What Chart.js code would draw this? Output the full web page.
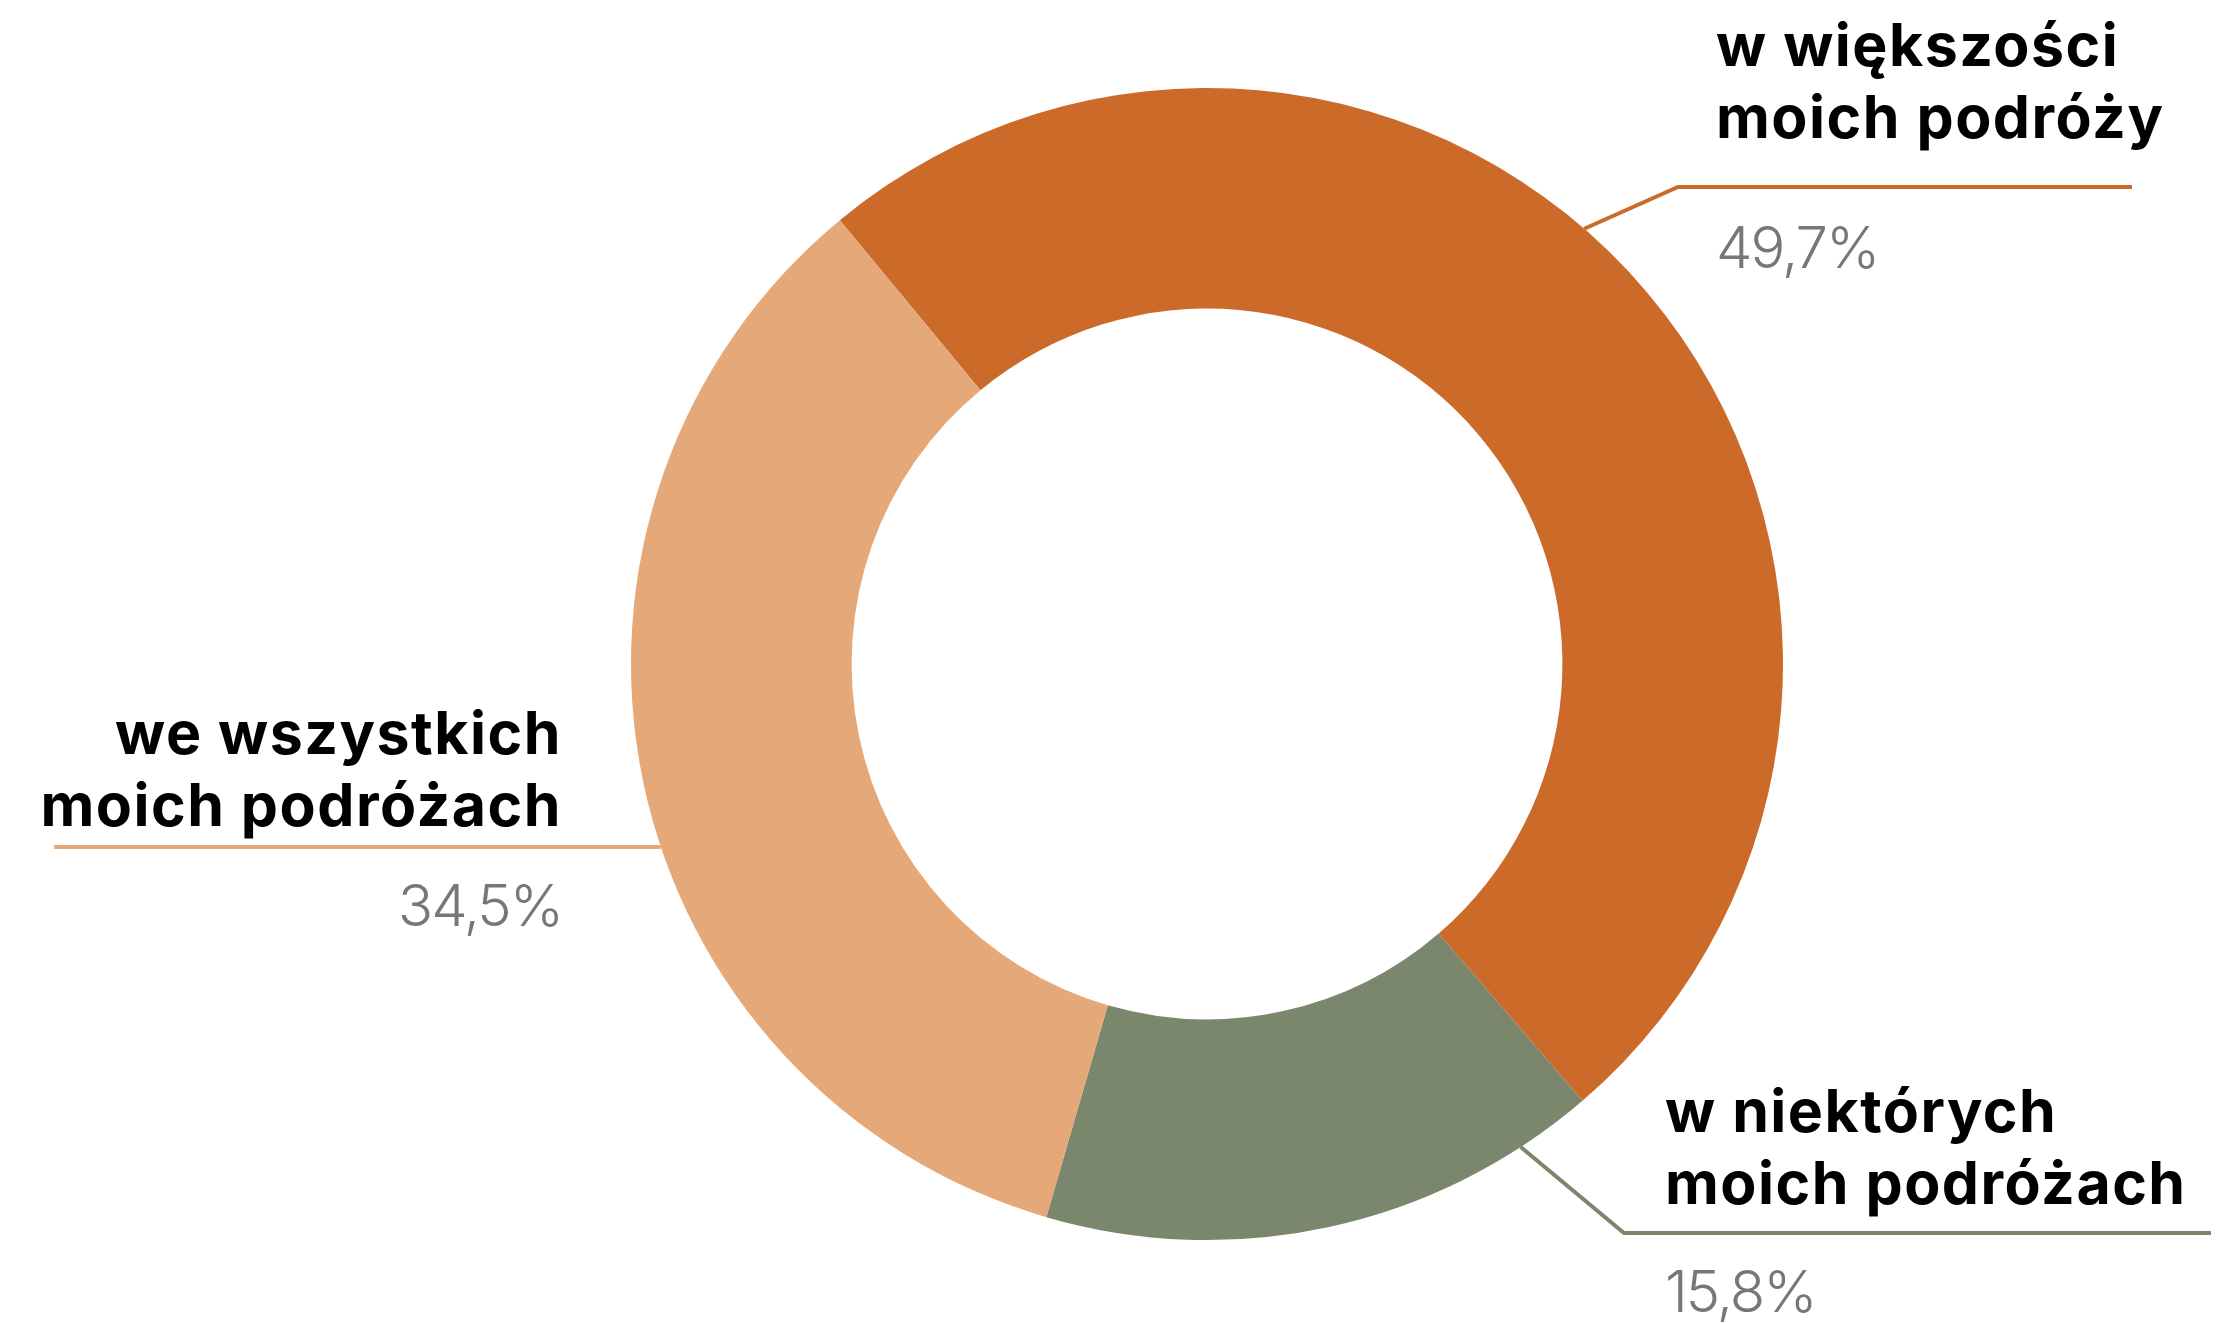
<!DOCTYPE html>
<html>
<head>
<meta charset="utf-8">
<script src="https://cdn.jsdelivr.net/npm/chart.js@4/dist/chart.umd.min.js"></script>
<style>
  html, body { margin: 0; padding: 0; background: #ffffff; }
  #wrap { width: 2218px; height: 1323px; }
</style>
</head>
<body>
<div id="wrap"><canvas id="myChart" width="2218" height="1323"></canvas></div>
<script>
// dane
const kategorie = [
  ['w większości', 'moich podróży'],
  ['w niektórych', 'moich podróżach'],
  ['we wszystkich', 'moich podróżach']
]
const wartosci = [49.7, 15.8, 34.5]
const etykietyProcent = ['49,7%', '15,8%', '34,5%']
const kolory = ['#cc6a2a', '#7a876c', '#e5a879']

// rozmieszczenie podpisów (piksele)
const podpisy = [
  { frac: 0.45, elbowX: 1678, lineY: 187, endX: 2132, textX: 1716, align: 'left', y1: 66, pctY: 268 },
  { frac: 0.135, elbowX: 1624, lineY: 1233, endX: 2211, textX: 1665, align: 'left', y1: 1132, pctY: 1312 },
  { frac: 0.445, elbowX: null, lineY: null, endX: 54, textX: 562, align: 'right', y1: 754, pctY: 926 }
]

const pluginPodpisy = {
  id: 'podpisy',
  afterDatasetsDraw(chart) {
    const ctx = chart.ctx
    const meta = chart.getDatasetMeta(0)
    meta.data.forEach((arc, i) => {
      const p = podpisy[i]
      const a = arc.startAngle + p.frac * (arc.endAngle - arc.startAngle)
      const sx = arc.x + arc.outerRadius * Math.cos(a)
      const sy = arc.y + arc.outerRadius * Math.sin(a)

      ctx.save()
      ctx.strokeStyle = kolory[i]
      ctx.lineWidth = 4
      ctx.beginPath()
      ctx.moveTo(sx, sy)
      if (p.elbowX !== null) {
        ctx.lineTo(p.elbowX, p.lineY)
        ctx.lineTo(p.endX, p.lineY)
      } else {
        ctx.lineTo(p.endX, sy)
      }
      ctx.stroke()

      ctx.textAlign = p.align
      ctx.textBaseline = 'alphabetic'
      ctx.fillStyle = '#000000'
      ctx.font = '700 59px Inter'
      ctx.letterSpacing = '1.5px'
      kategorie[i].forEach((linia, k) => {
        ctx.fillText(linia, p.textX, p.y1 + k * 72)
      })
      ctx.fillStyle = '#777777'
      ctx.font = '300 58px Inter'
      ctx.letterSpacing = '-2px'
      ctx.fillText(etykietyProcent[i], p.textX, p.pctY)
      ctx.restore()
    })
  }
}

const grafico = document.querySelector('#myChart')
new Chart(grafico, {
  type: 'doughnut',
  data: {
    labels: kategorie.map(k => k.join(' ')),
    datasets: [{
      data: wartosci,
      backgroundColor: kolory,
      borderWidth: 0
    }]
  },
  options: {
    responsive: false,
    animation: false,
    rotation: -39.6,
    cutout: '61.7%',
    layout: { padding: { left: 631, right: 435, top: 88, bottom: 83 } },
    plugins: {
      legend: { display: false },
      tooltip: { enabled: false }
    }
  },
  plugins: [pluginPodpisy]
})
</script>
</body>
</html>
